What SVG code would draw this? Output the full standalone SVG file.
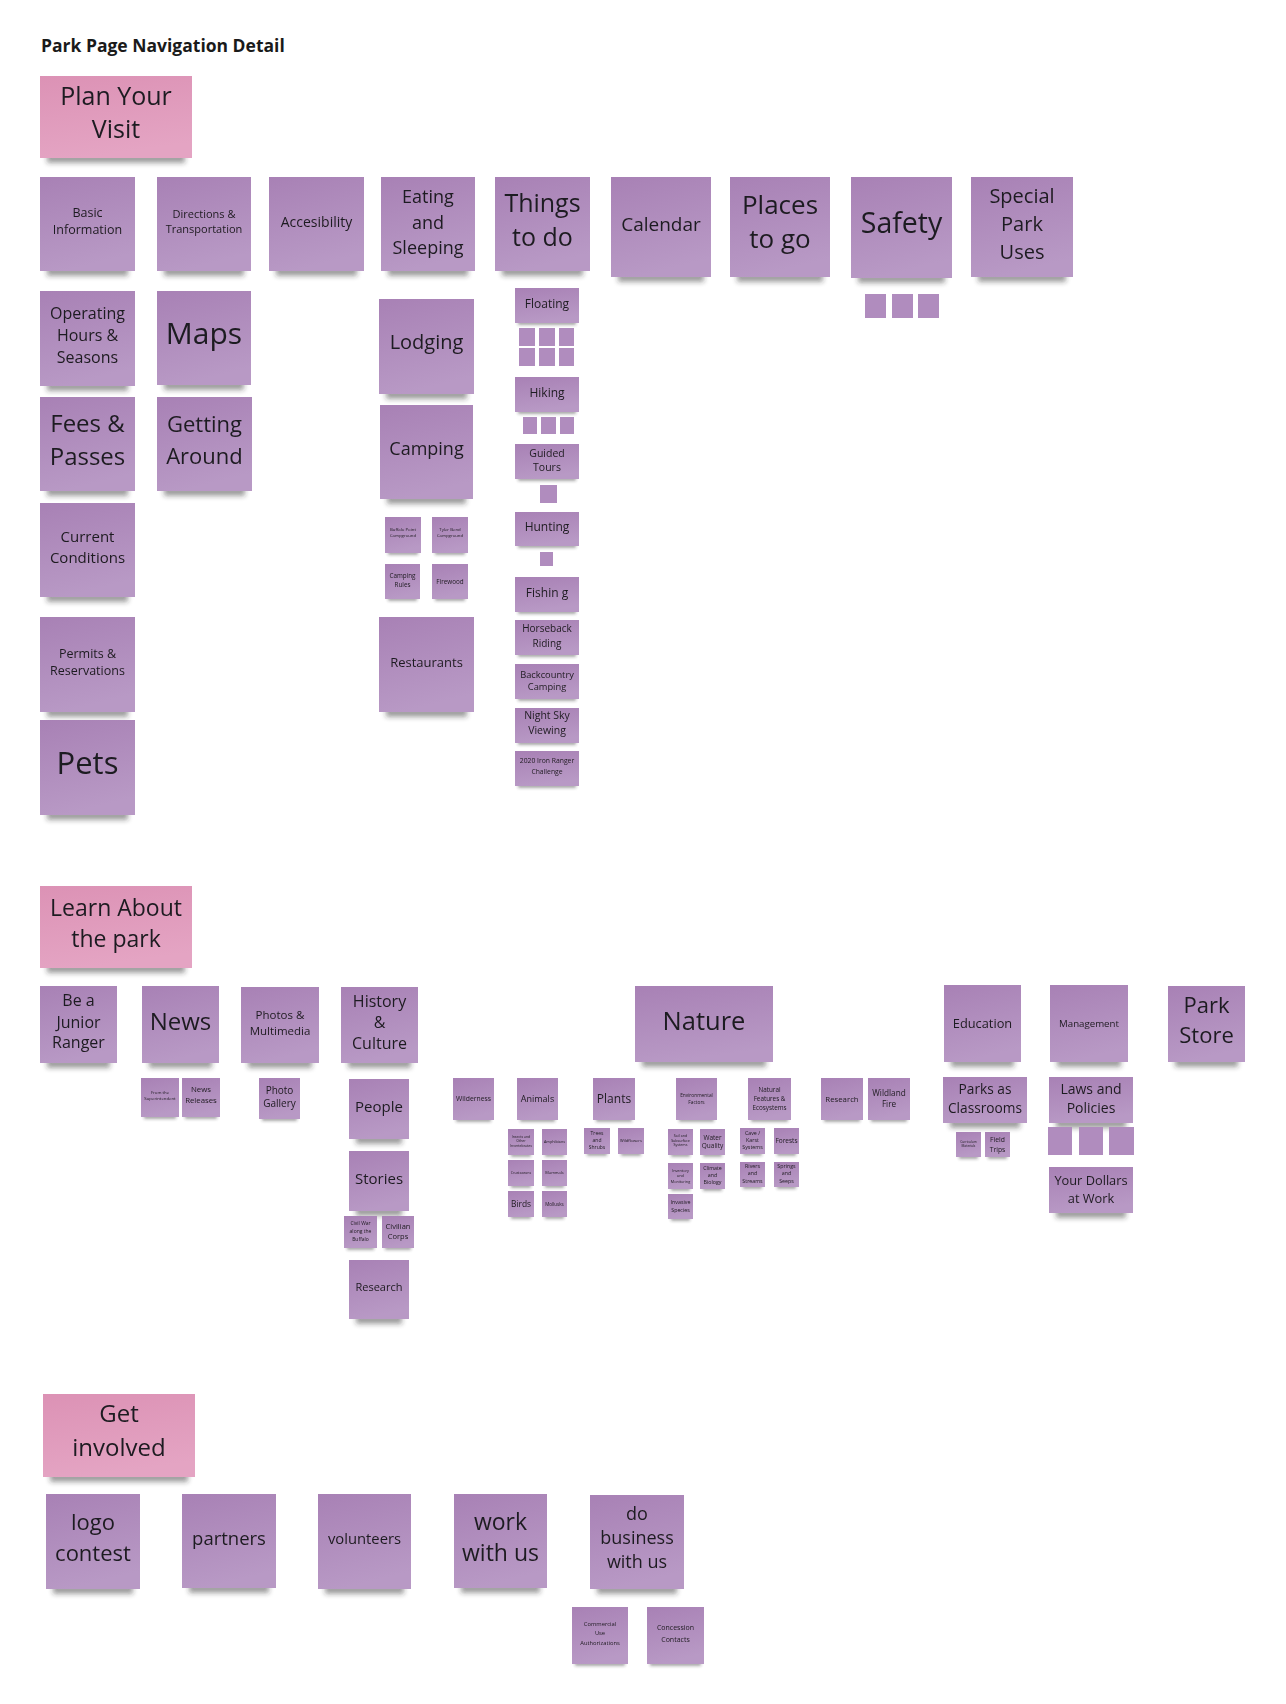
<svg xmlns="http://www.w3.org/2000/svg" width="1286" height="1704" viewBox="0 0 1286 1704">
<defs>
<linearGradient id="gp" x1="0" y1="0" x2="0.25" y2="1"><stop offset="0" stop-color="#a881b5"/><stop offset="1" stop-color="#b899c5"/></linearGradient>
<linearGradient id="gk" x1="0" y1="0" x2="0.25" y2="1"><stop offset="0" stop-color="#dc92b5"/><stop offset="1" stop-color="#e4a4c3"/></linearGradient>
<filter id="s" x="-20%" y="-20%" width="140%" height="160%">
<feMorphology in="SourceAlpha" operator="erode" radius="7 1" result="e"/>
<feOffset in="e" dy="6" result="o"/>
<feGaussianBlur in="o" stdDeviation="2.5" result="b"/>
<feFlood flood-color="#2a2a2a" flood-opacity="0.45"/>
<feComposite in2="b" operator="in" result="sh"/>
<feMerge><feMergeNode in="sh"/><feMergeNode in="SourceGraphic"/></feMerge>
</filter>
<filter id="s2" x="-30%" y="-30%" width="160%" height="180%">
<feMorphology in="SourceAlpha" operator="erode" radius="3 1" result="e"/>
<feOffset in="e" dy="3" result="o"/>
<feGaussianBlur in="o" stdDeviation="1.5" result="b"/>
<feFlood flood-color="#2a2a2a" flood-opacity="0.4"/>
<feComposite in2="b" operator="in" result="sh"/>
<feMerge><feMergeNode in="sh"/><feMergeNode in="SourceGraphic"/></feMerge>
</filter>
</defs>
<style>
.n{fill:url(#gp)}
.p{fill:url(#gk)}
.q{fill:#b08cbe}
text{font-family:"Open Sans","Noto Sans","Liberation Sans",sans-serif;fill:#1e1b20;text-anchor:middle}
.t{font-weight:bold;text-anchor:start;fill:#1a1a1a}
</style>
<rect width="1286" height="1704" fill="#ffffff"/>
<text class="t" x="41" y="52" font-size="17.5">Park Page Navigation Detail</text>
<g id="connectors"/>

<!-- Section 1 -->
<g id="plan-your-visit" filter="url(#s)"><rect class="p" x="40" y="76" width="152" height="82"/><text font-size="25"><tspan x="116" y="105">Plan Your</tspan><tspan x="116" y="138">Visit</tspan></text></g>
<g id="basic-information" filter="url(#s)"><rect class="n" x="40" y="177" width="95" height="94"/><text font-size="12.5"><tspan x="87.5" y="217">Basic</tspan><tspan x="87.5" y="234">Information</tspan></text></g>
<g id="directions" filter="url(#s)"><rect class="n" x="157" y="177" width="94" height="94"/><text font-size="11"><tspan x="204" y="218">Directions &amp;</tspan><tspan x="204" y="233">Transportation</tspan></text></g>
<g id="accessibility" filter="url(#s)"><rect class="n" x="269" y="177" width="95" height="94"/><text font-size="14" x="316.5" y="227">Accesibility</text></g>
<g id="eating-sleeping" filter="url(#s)"><rect class="n" x="381" y="177" width="94" height="94"/><text font-size="18"><tspan x="428" y="203">Eating</tspan><tspan x="428" y="229">and</tspan><tspan x="428" y="254">Sleeping</tspan></text></g>
<g id="things-to-do" filter="url(#s)"><rect class="n" x="495" y="177" width="95" height="94"/><text font-size="25"><tspan x="542.5" y="212">Things</tspan><tspan x="542.5" y="246">to do</tspan></text></g>
<g id="calendar" filter="url(#s)"><rect class="n" x="611" y="177" width="100" height="100"/><text font-size="19" x="661" y="231">Calendar</text></g>
<g id="places-to-go" filter="url(#s)"><rect class="n" x="730" y="177" width="100" height="100"/><text font-size="26"><tspan x="780" y="214">Places</tspan><tspan x="780" y="248">to go</tspan></text></g>
<g id="safety" filter="url(#s)"><rect class="n" x="851" y="177" width="101" height="101"/><text font-size="28.5" x="901.5" y="233">Safety</text></g>
<g id="special-park-uses" filter="url(#s)"><rect class="n" x="971" y="177" width="102" height="100"/><text font-size="20"><tspan x="1022" y="203">Special</tspan><tspan x="1022" y="231">Park</tspan><tspan x="1022" y="259">Uses</tspan></text></g>
<g id="safety-subs"><rect class="q" x="865" y="294" width="21" height="24"/><rect class="q" x="892" y="294" width="21" height="24"/><rect class="q" x="918" y="294" width="21" height="24"/></g>

<g id="operating-hours" filter="url(#s)"><rect class="n" x="40" y="291" width="95" height="95"/><text font-size="16"><tspan x="87.5" y="319">Operating</tspan><tspan x="87.5" y="341">Hours &amp;</tspan><tspan x="87.5" y="363">Seasons</tspan></text></g>
<g id="fees-passes" filter="url(#s)"><rect class="n" x="40" y="397" width="95" height="94"/><text font-size="24"><tspan x="87.5" y="432">Fees &amp;</tspan><tspan x="87.5" y="465">Passes</tspan></text></g>
<g id="current-conditions" filter="url(#s)"><rect class="n" x="40" y="503" width="95" height="94"/><text font-size="15"><tspan x="87.5" y="542">Current</tspan><tspan x="87.5" y="563">Conditions</tspan></text></g>
<g id="permits" filter="url(#s)"><rect class="n" x="40" y="617" width="95" height="95"/><text font-size="12.5"><tspan x="87.5" y="658">Permits &amp;</tspan><tspan x="87.5" y="675">Reservations</tspan></text></g>
<g id="pets" filter="url(#s)"><rect class="n" x="40" y="720" width="95" height="95"/><text font-size="31" x="87.5" y="774">Pets</text></g>
<g id="maps" filter="url(#s)"><rect class="n" x="157" y="291" width="94" height="94"/><text font-size="30" x="204" y="344">Maps</text></g>
<g id="getting-around" filter="url(#s)"><rect class="n" x="157" y="397" width="95" height="94"/><text font-size="22"><tspan x="204.5" y="432">Getting</tspan><tspan x="204.5" y="464">Around</tspan></text></g>

<g id="lodging" filter="url(#s)"><rect class="n" x="379" y="299" width="95" height="95"/><text font-size="20" x="426.5" y="349">Lodging</text></g>
<g id="camping" filter="url(#s)"><rect class="n" x="380" y="405" width="93" height="94"/><text font-size="18" x="426.5" y="455">Camping</text></g>
<g id="buffalo-point" filter="url(#s2)"><rect class="n" x="385" y="517" width="36" height="36"/><text font-size="4.3"><tspan x="403" y="531">Buffalo Point</tspan><tspan x="403" y="537">Campground</tspan></text></g>
<g id="tyler-bend" filter="url(#s2)"><rect class="n" x="432" y="517" width="36" height="36"/><text font-size="4.3"><tspan x="450" y="531">Tyler Bend</tspan><tspan x="450" y="537">Campground</tspan></text></g>
<g id="camping-rules" filter="url(#s2)"><rect class="n" x="385" y="564" width="35" height="35"/><text font-size="6.3"><tspan x="402.5" y="578">Camping</tspan><tspan x="402.5" y="587">Rules</tspan></text></g>
<g id="firewood" filter="url(#s2)"><rect class="n" x="432" y="564" width="36" height="35"/><text font-size="6.3" x="450" y="584">Firewood</text></g>
<g id="restaurants" filter="url(#s)"><rect class="n" x="379" y="617" width="95" height="95"/><text font-size="13" x="426.5" y="667">Restaurants</text></g>

<g id="floating" filter="url(#s2)"><rect class="n" x="515" y="288" width="64" height="35"/><text font-size="12" x="547" y="308">Floating</text></g>
<g id="floating-subs"><rect class="q" x="519" y="328" width="16" height="18"/><rect class="q" x="539" y="328" width="16" height="18"/><rect class="q" x="559" y="328" width="15" height="18"/><rect class="q" x="519" y="348" width="16" height="18"/><rect class="q" x="539" y="348" width="16" height="18"/><rect class="q" x="559" y="348" width="15" height="18"/></g>
<g id="hiking" filter="url(#s2)"><rect class="n" x="515" y="377" width="64" height="35"/><text font-size="12" x="547" y="397">Hiking</text></g>
<g id="hiking-subs"><rect class="q" x="523" y="417" width="14" height="17"/><rect class="q" x="541" y="417" width="15" height="17"/><rect class="q" x="560" y="417" width="14" height="17"/></g>
<g id="guided-tours" filter="url(#s2)"><rect class="n" x="515" y="444" width="64" height="35"/><text font-size="10.5"><tspan x="547" y="457">Guided</tspan><tspan x="547" y="471">Tours</tspan></text></g>
<rect id="guided-sub" class="q" x="540" y="485" width="17" height="18"/>
<g id="hunting" filter="url(#s2)"><rect class="n" x="515" y="512" width="64" height="34"/><text font-size="12" x="547" y="531">Hunting</text></g>
<rect id="hunting-sub" class="q" x="540" y="552" width="13" height="14"/>
<g id="fishing" filter="url(#s2)"><rect class="n" x="515" y="577" width="64" height="35"/><text font-size="12" x="547" y="597">Fishin g</text></g>
<g id="horseback" filter="url(#s2)"><rect class="n" x="515" y="620" width="64" height="35"/><text font-size="10"><tspan x="547" y="632">Horseback</tspan><tspan x="547" y="647">Riding</tspan></text></g>
<g id="backcountry" filter="url(#s2)"><rect class="n" x="515" y="664" width="64" height="35"/><text font-size="9.3"><tspan x="547" y="678">Backcountry</tspan><tspan x="547" y="690">Camping</tspan></text></g>
<g id="night-sky" filter="url(#s2)"><rect class="n" x="515" y="708" width="64" height="35"/><text font-size="10.5"><tspan x="547" y="719">Night Sky</tspan><tspan x="547" y="734">Viewing</tspan></text></g>
<g id="iron-ranger" filter="url(#s2)"><rect class="n" x="515" y="751" width="64" height="35"/><text font-size="6.8"><tspan x="547" y="763">2020 Iron Ranger</tspan><tspan x="547" y="774">Challenge</tspan></text></g>

<!-- Section 2 -->
<g id="learn-about" filter="url(#s)"><rect class="p" x="40" y="886" width="152" height="82"/><text font-size="23"><tspan x="116" y="916">Learn About</tspan><tspan x="116" y="947">the park</tspan></text></g>
<g id="junior-ranger" filter="url(#s)"><rect class="n" x="40" y="986" width="77" height="77"/><text font-size="16"><tspan x="78.5" y="1006">Be a</tspan><tspan x="78.5" y="1028">Junior</tspan><tspan x="78.5" y="1048">Ranger</tspan></text></g>
<g id="news" filter="url(#s)"><rect class="n" x="142" y="986" width="77" height="77"/><text font-size="24" x="180.5" y="1030">News</text></g>
<g id="photos-multimedia" filter="url(#s)"><rect class="n" x="241" y="987" width="78" height="76"/><text font-size="11.5"><tspan x="280" y="1019">Photos &amp;</tspan><tspan x="280" y="1035">Multimedia</tspan></text></g>
<g id="history-culture" filter="url(#s)"><rect class="n" x="341" y="987" width="77" height="76"/><text font-size="16"><tspan x="379.5" y="1007">History</tspan><tspan x="379.5" y="1028">&amp;</tspan><tspan x="379.5" y="1049">Culture</tspan></text></g>
<g id="superintendent" filter="url(#s2)"><rect class="n" x="141" y="1078" width="38" height="39"/><text font-size="4.3"><tspan x="160" y="1094">From the</tspan><tspan x="160" y="1100">Superintendent</tspan></text></g>
<g id="news-releases" filter="url(#s2)"><rect class="n" x="182" y="1078" width="38" height="39"/><text font-size="7.8"><tspan x="201" y="1092">News</tspan><tspan x="201" y="1103">Releases</tspan></text></g>
<g id="photo-gallery" filter="url(#s2)"><rect class="n" x="259" y="1078" width="41" height="41"/><text font-size="10"><tspan x="279.5" y="1094">Photo</tspan><tspan x="279.5" y="1107">Gallery</tspan></text></g>
<g id="people" filter="url(#s)"><rect class="n" x="349" y="1079" width="60" height="60"/><text font-size="15" x="379" y="1112">People</text></g>
<g id="stories" filter="url(#s)"><rect class="n" x="349" y="1151" width="60" height="60"/><text font-size="15" x="379" y="1184">Stories</text></g>
<g id="civil-war" filter="url(#s2)"><rect class="n" x="344" y="1216" width="33" height="32"/><text font-size="5"><tspan x="360.5" y="1225">Civil War</tspan><tspan x="360.5" y="1233">along the</tspan><tspan x="360.5" y="1241">Buffalo</tspan></text></g>
<g id="civilian-corps" filter="url(#s2)"><rect class="n" x="382" y="1216" width="32" height="32"/><text font-size="7.5"><tspan x="398" y="1229">Civilian</tspan><tspan x="398" y="1239">Corps</tspan></text></g>
<g id="history-research" filter="url(#s)"><rect class="n" x="349" y="1260" width="60" height="59"/><text font-size="11" x="379" y="1291">Research</text></g>

<g id="nature" filter="url(#s)"><rect class="n" x="635" y="986" width="138" height="76"/><text font-size="25.5" x="704" y="1030">Nature</text></g>
<g id="wilderness" filter="url(#s2)"><rect class="n" x="453" y="1078" width="41" height="42"/><text font-size="6.8" x="473.5" y="1101">Wilderness</text></g>
<g id="animals" filter="url(#s2)"><rect class="n" x="517" y="1078" width="41" height="42"/><text font-size="9" x="537.5" y="1102">Animals</text></g>
<g id="plants" filter="url(#s2)"><rect class="n" x="593" y="1078" width="42" height="42"/><text font-size="12" x="614" y="1103">Plants</text></g>
<g id="environmental-factors" filter="url(#s2)"><rect class="n" x="676" y="1078" width="41" height="42"/><text font-size="4.8"><tspan x="696.5" y="1097">Environmental</tspan><tspan x="696.5" y="1104">Factors</tspan></text></g>
<g id="natural-features" filter="url(#s2)"><rect class="n" x="748" y="1078" width="43" height="42"/><text font-size="6.3"><tspan x="769.5" y="1092">Natural</tspan><tspan x="769.5" y="1101">Features &amp;</tspan><tspan x="769.5" y="1110">Ecosystems</tspan></text></g>

<g id="insects" filter="url(#s2)"><rect class="n" x="508" y="1129" width="26" height="26"/><text font-size="3.5"><tspan x="521" y="1138">Insects and</tspan><tspan x="521" y="1142">Other</tspan><tspan x="521" y="1146.5">Invertebrates</tspan></text></g>
<g id="amphibians" filter="url(#s2)"><rect class="n" x="542" y="1129" width="25" height="26"/><text font-size="3.8" x="554.5" y="1143">Amphibians</text></g>
<g id="crustaceans" filter="url(#s2)"><rect class="n" x="508" y="1160" width="26" height="26"/><text font-size="3.6" x="521" y="1174">Crustaceans</text></g>
<g id="mammals" filter="url(#s2)"><rect class="n" x="542" y="1160" width="25" height="26"/><text font-size="4" x="554.5" y="1174">Mammals</text></g>
<g id="birds" filter="url(#s2)"><rect class="n" x="508" y="1191" width="26" height="26"/><text font-size="8.4" x="521" y="1207">Birds</text></g>
<g id="mollusks" filter="url(#s2)"><rect class="n" x="542" y="1191" width="25" height="26"/><text font-size="4.5" x="554.5" y="1205.5">Mollusks</text></g>
<g id="trees-shrubs" filter="url(#s2)"><rect class="n" x="584" y="1128" width="26" height="26"/><text font-size="5"><tspan x="597" y="1135">Trees</tspan><tspan x="597" y="1142">and</tspan><tspan x="597" y="1149">Shrubs</tspan></text></g>
<g id="wildflowers" filter="url(#s2)"><rect class="n" x="618" y="1128" width="26" height="26"/><text font-size="4" x="631" y="1141.5">Wildflowers</text></g>

<g id="soil-systems" filter="url(#s2)"><rect class="n" x="668" y="1129" width="25" height="26"/><text font-size="3.6"><tspan x="680.5" y="1137">Soil and</tspan><tspan x="680.5" y="1141.5">Subsurface</tspan><tspan x="680.5" y="1146">Systems</tspan></text></g>
<g id="water-quality" filter="url(#s2)"><rect class="n" x="700" y="1129" width="25" height="26"/><text font-size="6.5"><tspan x="712.5" y="1140">Water</tspan><tspan x="712.5" y="1148">Quality</tspan></text></g>
<g id="inventory" filter="url(#s2)"><rect class="n" x="668" y="1163" width="25" height="26"/><text font-size="3.8"><tspan x="680.5" y="1171.5">Inventory</tspan><tspan x="680.5" y="1177">and</tspan><tspan x="680.5" y="1182.5">Monitoring</tspan></text></g>
<g id="climate" filter="url(#s2)"><rect class="n" x="700" y="1163" width="25" height="26"/><text font-size="5.3"><tspan x="712.5" y="1170">Climate</tspan><tspan x="712.5" y="1177">and</tspan><tspan x="712.5" y="1184">Biology</tspan></text></g>
<g id="invasive-species" filter="url(#s2)"><rect class="n" x="668" y="1194" width="25" height="25"/><text font-size="5.3"><tspan x="680.5" y="1204">Invasive</tspan><tspan x="680.5" y="1212">Species</tspan></text></g>
<g id="cave-karst" filter="url(#s2)"><rect class="n" x="740" y="1128" width="25" height="26"/><text font-size="5.3"><tspan x="752.5" y="1135">Cave /</tspan><tspan x="752.5" y="1142">Karst</tspan><tspan x="752.5" y="1149">Systems</tspan></text></g>
<g id="forests" filter="url(#s2)"><rect class="n" x="774" y="1128" width="25" height="26"/><text font-size="6.5" x="786.5" y="1142.5">Forests</text></g>
<g id="rivers-streams" filter="url(#s2)"><rect class="n" x="740" y="1162" width="25" height="25"/><text font-size="5.3"><tspan x="752.5" y="1168">Rivers</tspan><tspan x="752.5" y="1175">and</tspan><tspan x="752.5" y="1182.5">Streams</tspan></text></g>
<g id="springs-seeps" filter="url(#s2)"><rect class="n" x="774" y="1162" width="25" height="25"/><text font-size="5.3"><tspan x="786.5" y="1168">Springs</tspan><tspan x="786.5" y="1175">and</tspan><tspan x="786.5" y="1182.5">Seeps</tspan></text></g>

<g id="nature-research" filter="url(#s2)"><rect class="n" x="821" y="1078" width="42" height="42"/><text font-size="7.8" x="842" y="1102">Research</text></g>
<g id="wildland-fire" filter="url(#s2)"><rect class="n" x="868" y="1078" width="42" height="42"/><text font-size="8.2"><tspan x="889" y="1096">Wildland</tspan><tspan x="889" y="1107">Fire</tspan></text></g>
<g id="education" filter="url(#s)"><rect class="n" x="944" y="985" width="77" height="77"/><text font-size="12.8" x="982.5" y="1028">Education</text></g>
<g id="management" filter="url(#s)"><rect class="n" x="1050" y="985" width="78" height="77"/><text font-size="9.7" x="1089" y="1027">Management</text></g>
<g id="park-store" filter="url(#s)"><rect class="n" x="1168" y="986" width="77" height="76"/><text font-size="22"><tspan x="1206.5" y="1013">Park</tspan><tspan x="1206.5" y="1043">Store</tspan></text></g>
<g id="parks-classrooms" filter="url(#s)"><rect class="n" x="943" y="1077" width="84" height="46"/><text font-size="13.7"><tspan x="985" y="1094">Parks as</tspan><tspan x="985" y="1113">Classrooms</tspan></text></g>
<g id="laws-policies" filter="url(#s)"><rect class="n" x="1049" y="1077" width="84" height="46"/><text font-size="14"><tspan x="1091" y="1094">Laws and</tspan><tspan x="1091" y="1113">Policies</tspan></text></g>
<g id="curriculum" filter="url(#s2)"><rect class="n" x="956" y="1132" width="25" height="25"/><text font-size="3.2"><tspan x="968.5" y="1143">Curriculum</tspan><tspan x="968.5" y="1147">Materials</tspan></text></g>
<g id="field-trips" filter="url(#s2)"><rect class="n" x="985" y="1132" width="25" height="25"/><text font-size="6.8"><tspan x="997.5" y="1142">Field</tspan><tspan x="997.5" y="1152">Trips</tspan></text></g>
<g id="laws-subs"><rect class="q" x="1048" y="1127" width="24" height="28"/><rect class="q" x="1079" y="1127" width="24" height="28"/><rect class="q" x="1109" y="1127" width="25" height="28"/></g>
<g id="your-dollars" filter="url(#s)"><rect class="n" x="1049" y="1167" width="84" height="46"/><text font-size="12.8"><tspan x="1091" y="1185">Your Dollars</tspan><tspan x="1091" y="1203">at Work</tspan></text></g>

<!-- Section 3 -->
<g id="get-involved" filter="url(#s)"><rect class="p" x="43" y="1394" width="152" height="83"/><text font-size="24"><tspan x="119" y="1422">Get</tspan><tspan x="119" y="1456">involved</tspan></text></g>
<g id="logo-contest" filter="url(#s)"><rect class="n" x="46" y="1494" width="94" height="95"/><text font-size="22"><tspan x="93" y="1530">logo</tspan><tspan x="93" y="1561">contest</tspan></text></g>
<g id="partners" filter="url(#s)"><rect class="n" x="182" y="1494" width="94" height="94"/><text font-size="18.5" x="229" y="1545">partners</text></g>
<g id="volunteers" filter="url(#s)"><rect class="n" x="318" y="1494" width="93" height="95"/><text font-size="14.8" x="364.5" y="1544">volunteers</text></g>
<g id="work-with-us" filter="url(#s)"><rect class="n" x="454" y="1494" width="93" height="94"/><text font-size="23"><tspan x="500.5" y="1530">work</tspan><tspan x="500.5" y="1561">with us</tspan></text></g>
<g id="do-business" filter="url(#s)"><rect class="n" x="590" y="1495" width="94" height="94"/><text font-size="18"><tspan x="637" y="1520">do</tspan><tspan x="637" y="1544">business</tspan><tspan x="637" y="1568">with us</tspan></text></g>
<g id="commercial-use" filter="url(#s2)"><rect class="n" x="572" y="1607" width="56" height="57"/><text font-size="5.8"><tspan x="600" y="1626">Commercial</tspan><tspan x="600" y="1635">Use</tspan><tspan x="600" y="1645">Authorizations</tspan></text></g>
<g id="concession" filter="url(#s2)"><rect class="n" x="647" y="1607" width="57" height="57"/><text font-size="7"><tspan x="675.5" y="1630">Concession</tspan><tspan x="675.5" y="1642">Contacts</tspan></text></g>
</svg>
